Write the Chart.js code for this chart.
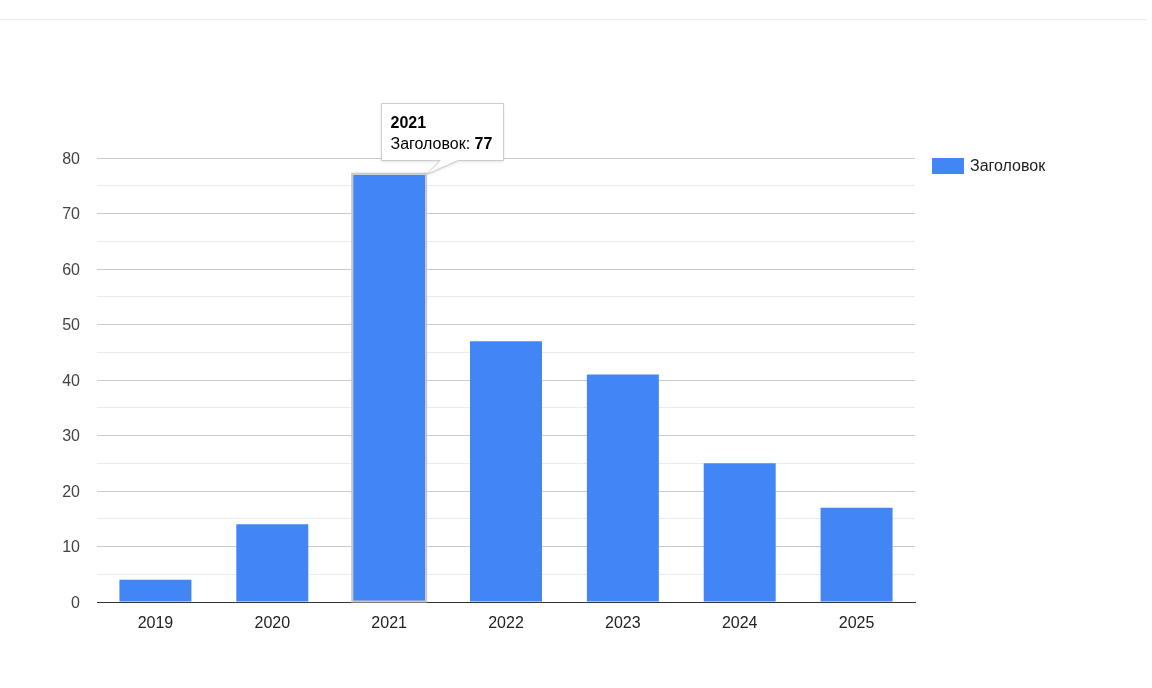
<!DOCTYPE html>
<html>
<head>
<meta charset="utf-8">
<script src="https://cdn.jsdelivr.net/npm/chart.js@4.4.1/dist/chart.umd.min.js"></script>
<style>
  body { margin: 0; background: #fff; }
  #wrap { position: relative; width: 1152px; height: 688px; }
  #topline { position: absolute; left: 0; top: 19px; width: 1146px; height: 1px; background: #ebebeb; }
</style>
</head>
<body>
<div id="wrap">
  <div id="topline"></div>
  <canvas id="chart" width="1152" height="688"></canvas>
</div>
<script>
const years = ['2019', '2020', '2021', '2022', '2023', '2024', '2025'];
const values = [4, 14, 77, 47, 41, 25, 17];
const seriesName = 'Заголовок';
const barColor = '#4285f4';
const hoverIndex = 2;

const FONT = '"Liberation Sans", Arial, sans-serif';

// legend drawn by hand so it sits at the top right like the original
const legendPlugin = {
    id: 'sideLegend',
    afterDraw(chart) {
        const ctx = chart.ctx;
        const area = chart.chartArea;
        const x = area.right + 17;
        const y = area.top;
        ctx.save();
        ctx.fillStyle = barColor;
        ctx.fillRect(x, y, 32, 16);
        ctx.fillStyle = '#222';
        ctx.font = '16px ' + FONT;
        ctx.textBaseline = 'middle';
        ctx.fillText(chart.data.datasets[0].label, x + 38, y + 8.5);
        ctx.restore();
    }
};

// the hovered bar with its outline and the google-like callout
const hoverPlugin = {
    id: 'hoverTip',
    afterDatasetsDraw(chart) {
        const ctx = chart.ctx;
        const bar = chart.getDatasetMeta(0).data[hoverIndex];
        const left = bar.x - bar.width / 2;
        const right = bar.x + bar.width / 2;
        ctx.save();
        ctx.strokeStyle = '#c8c8c8';
        ctx.lineWidth = 2;
        ctx.strokeRect(left - 1, bar.y - 1, bar.width + 2, bar.base - bar.y + 1);

        const title = chart.data.labels[hoverIndex];
        const label = chart.data.datasets[0].label + ': ';
        const val = String(chart.data.datasets[0].data[hoverIndex]);
        ctx.font = '16px ' + FONT;
        const lw = ctx.measureText(label).width;
        ctx.font = 'bold 16px ' + FONT;
        const vw = ctx.measureText(val).width;
        const boxW = Math.round(lw + vw + 20);
        const boxH = 57;
        const bx = Math.round(bar.x - 8) + 0.5;
        const by = Math.round(bar.y - 72) + 0.5;
        const tipX = right + 1;
        const tipY = bar.y;

        ctx.shadowColor = 'rgba(0,0,0,0.15)';
        ctx.shadowBlur = 3;
        ctx.shadowOffsetY = 1;
        ctx.beginPath();
        ctx.moveTo(bx, by);
        ctx.lineTo(bx + boxW, by);
        ctx.lineTo(bx + boxW, by + boxH);
        ctx.lineTo(tipX + 32, by + boxH);
        ctx.lineTo(tipX, tipY);
        ctx.lineTo(tipX + 14, by + boxH);
        ctx.lineTo(bx, by + boxH);
        ctx.closePath();
        ctx.fillStyle = '#fff';
        ctx.fill();
        ctx.shadowColor = 'transparent';
        ctx.strokeStyle = '#cccccc';
        ctx.lineWidth = 1;
        ctx.stroke();

        ctx.fillStyle = '#000';
        ctx.textBaseline = 'alphabetic';
        ctx.font = 'bold 16px ' + FONT;
        ctx.fillText(title, bx + 9, by + 24);
        ctx.font = '16px ' + FONT;
        ctx.fillText(label, bx + 9, by + 45);
        ctx.font = 'bold 16px ' + FONT;
        ctx.fillText(val, bx + 9 + lw, by + 45);
        ctx.restore();
    }
};

const chart = new Chart(document.getElementById('chart'), {
    type: 'bar',
    data: {
        labels: years,
        datasets: [{
            label: seriesName,
            data: values,
            backgroundColor: barColor,
            borderWidth: 0,
            categoryPercentage: 1,
            barPercentage: 0.616
        }]
    },
    options: {
        responsive: false,
        animation: false,
        events: [],
        layout: { padding: { top: 158, right: 237, bottom: 0, left: 0 } },
        plugins: {
            legend: { display: false },
            tooltip: { enabled: false }
        },
        scales: {
            x: {
                grid: { display: false },
                border: { display: true, color: '#333', width: 1 },
                ticks: { color: '#222', font: { family: FONT, size: 16 }, padding: 4 },
                afterFit: s => { s.height = 86; }
            },
            y: {
                min: 0,
                max: 80,
                ticks: {
                    stepSize: 5,
                    color: '#444',
                    font: { family: FONT, size: 16 },
                    padding: 17,
                    labelOffset: 1.5,
                    callback: v => (v % 10 === 0 ? v : '')
                },
                grid: {
                    drawTicks: false,
                    color: c => (c.tick.value === 0 ? '#333' : (c.tick.value % 10 === 0 ? '#cccccc' : '#ebebeb'))
                },
                border: { display: false },
                afterFit: s => { s.width = 97; }
            }
        }
    },
    plugins: [legendPlugin, hoverPlugin]
});
</script>
</body>
</html>
